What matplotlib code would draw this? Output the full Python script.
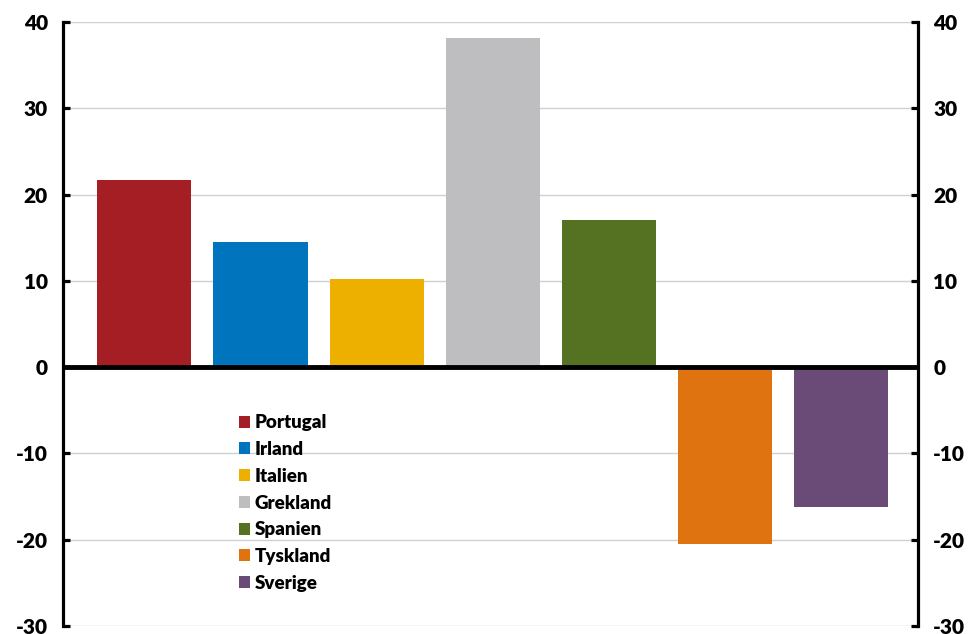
import matplotlib
matplotlib.use("Agg")
import matplotlib.pyplot as plt
from matplotlib.patches import Patch

categories = ["Portugal", "Irland", "Italien", "Grekland", "Spanien", "Tyskland", "Sverige"]
values = [21.7, 14.5, 10.2, 38.1, 17.1, -20.5, -16.2]
colors = ["#A51E24", "#0075BE", "#EEB000", "#BEBEC0", "#557223", "#DE730F", "#6A4A77"]
yticks = [-30, -20, -10, 0, 10, 20, 30, 40]

plt.rcParams['font.family'] = ['Lato', 'DejaVu Sans']
plt.rcParams['font.weight'] = 'bold'

fig = plt.figure(figsize=(9.77, 6.34), dpi=100)
ax = fig.add_axes([0.0645, 0.0126, 0.8751, 0.9527])

x = list(range(len(categories)))
ax.bar(x, values, width=0.81, color=colors, zorder=2)

ax.set_ylim(-30, 40)
ax.set_xlim(-0.7, 6.66)
ax.set_yticks(yticks)
ax.set_yticklabels([str(t) for t in yticks], fontsize=15, fontweight='heavy')
ax.set_xticks([])
for t in yticks:
    if t != 0:
        ax.axhline(t, color="#D0D0D0", lw=1.0, zorder=1)
ax.axhline(0, color="black", lw=3.5, zorder=3)

for s in ["top", "bottom"]:
    ax.spines[s].set_visible(False)
for s in ["left", "right"]:
    ax.spines[s].set_linewidth(2.3)
ax.tick_params(axis='y', direction='in', length=5, width=2.3, left=True, right=True,
               labelleft=True, labelright=True, pad=11)

handles = [Patch(facecolor=c, edgecolor='none') for c in colors]
leg = ax.legend(handles, categories, loc='upper left', bbox_to_anchor=(0.197, 0.363),
                frameon=False, prop={'weight': 'heavy', 'size': 13.5},
                handlelength=0.6, handleheight=0.6, handletextpad=0.25,
                labelspacing=0.52, borderaxespad=0)
leg.set_zorder(5)

fig.savefig("out.png", dpi=100)
